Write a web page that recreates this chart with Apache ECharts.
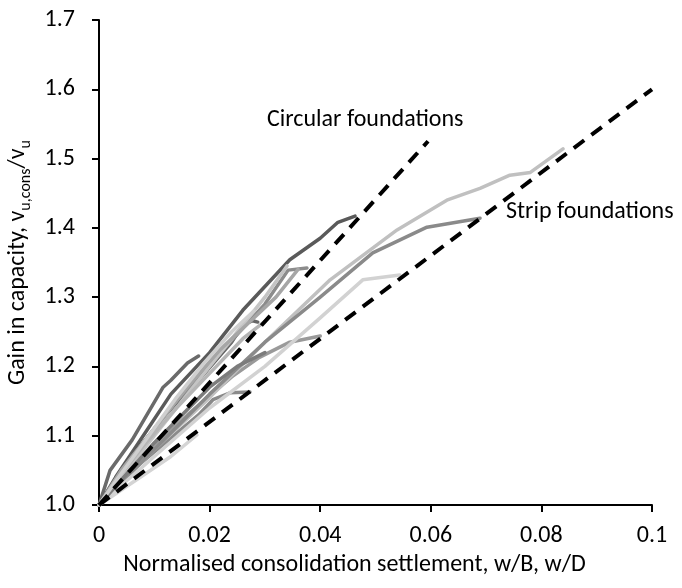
<!DOCTYPE html>
<html>
<head>
<meta charset="utf-8">
<script src="https://cdn.jsdelivr.net/npm/echarts@6/dist/echarts.min.js"></script>
<style>
html,body{margin:0;padding:0;background:#fff;}
#chart{width:682px;height:588px;}
</style>
</head>
<body>
<div id="chart"></div>
<script>
// Reference lines
const circularLine = [[0, 1.0], [0.0595, 1.525]];
const stripLine = [[0, 1.0], [0.1, 1.6]];

// Test curves (x = w/B or w/D, y = gain in capacity)
const curveA = [[0,1],[0.003,1.04],[0.008,1.1],[0.013,1.16],[0.020,1.22],[0.026,1.281],[0.0345,1.354],[0.040,1.385],[0.0432,1.408],[0.0463,1.417]];
const curveB = [[0,1],[0.002,1.05],[0.006,1.094],[0.0116,1.17],[0.013,1.18],[0.016,1.205],[0.018,1.215]];
const curveC = [[0,1],[0.005,1.06],[0.012,1.13],[0.018,1.18],[0.024,1.235],[0.026,1.26],[0.0278,1.266],[0.0287,1.264]];
const curveD = [[0,1],[0.006,1.07],[0.014,1.15],[0.022,1.22],[0.030,1.29],[0.0342,1.339],[0.0376,1.342]];
const curveE = [[0,1],[0.008,1.08],[0.016,1.16],[0.025,1.25],[0.030,1.30],[0.034,1.345]];
const curveF = [[0,1],[0.008,1.043],[0.013,1.07],[0.0177,1.101]];
const curveG = [[0,1],[0.006,1.05],[0.012,1.09],[0.018,1.13],[0.0206,1.152],[0.0237,1.162],[0.0273,1.163]];
const curveH = [[0,1],[0.008,1.07],[0.016,1.13],[0.024,1.185],[0.029,1.213],[0.0345,1.235],[0.040,1.244]];
const curveI = [[0,1],[0.010,1.08],[0.020,1.155],[0.030,1.235],[0.0418,1.325],[0.0539,1.397],[0.0629,1.44],[0.0689,1.457],[0.0743,1.476],[0.078,1.48],[0.0839,1.514]];
const curveJ = [[0,1],[0.010,1.08],[0.020,1.16],[0.030,1.235],[0.040,1.30],[0.0495,1.364],[0.0593,1.401],[0.0689,1.414]];
const curveK = [[0,1],[0.010,1.07],[0.020,1.14],[0.030,1.20],[0.040,1.27],[0.0477,1.325],[0.0544,1.332]];
const curveL = [[0,1],[0.004,1.05],[0.010,1.11],[0.016,1.17],[0.022,1.225],[0.028,1.27],[0.032,1.30],[0.036,1.34]];
const curveM = [[0,1],[0.003,1.035],[0.008,1.085],[0.014,1.14],[0.020,1.19],[0.026,1.24],[0.030,1.265]];
const curveN = [[0,1],[0.005,1.045],[0.010,1.09],[0.015,1.13],[0.020,1.17],[0.025,1.20],[0.030,1.22]];
const curveO = [[0,1],[0.004,1.045],[0.009,1.10],[0.014,1.155],[0.019,1.205],[0.024,1.25],[0.028,1.28]];

const curves = [curveA, curveB, curveC, curveD, curveE, curveF, curveG, curveH, curveI, curveJ, curveK, curveL, curveM, curveN, curveO];
const curveColors = ['#5a5a5a','#6a6a6a','#666666','#8c8c8c','#c4c4c4','#d4d4d4','#8a8a8a','#9a9a9a','#c0c0c0','#8a8a8a','#d2d2d2','#a6a6a6','#b5b5b5','#7c7c7c','#cfcfcf'];

const xTicks = [0, 0.02, 0.04, 0.06, 0.08, 0.1];
const yTicks = [1.0, 1.1, 1.2, 1.3, 1.4, 1.5, 1.6, 1.7];

const font = 'Carlito, Lato, "Open Sans", sans-serif';

const series = curves.map((d, i) => ({
  type: 'line', data: d, symbol: 'none', silent: true,
  lineStyle: { color: curveColors[i], width: 3.5, cap: 'round', join: 'round' },
  z: 2
}));
series.push({
  type: 'line', data: circularLine, symbol: 'none', silent: true,
  lineStyle: { color: '#000', width: 4, type: [13, 9] }, z: 3
});
series.push({
  type: 'line', data: stripLine, symbol: 'none', silent: true,
  lineStyle: { color: '#000', width: 4, type: [13, 9] }, z: 3
});

const chart = echarts.init(document.getElementById('chart'), null, { renderer: 'canvas' });
chart.setOption({
  animation: false,
  backgroundColor: '#fff',
  grid: { left: 99, right: 30, top: 20, bottom: 83, containLabel: false, outerBoundsMode: 'none' },
  xAxis: {
    type: 'value', min: 0, max: 0.1, interval: 0.02,
    name: 'Normalised consolidation settlement, w/B, w/D',
    nameLocation: 'middle', nameGap: 47,
    nameTextStyle: { fontFamily: font, fontSize: 24, color: '#000', padding: [0, 42, 0, 0] },
    axisLine: { lineStyle: { color: '#000', width: 2 } },
    axisTick: { show: true, length: 7, lineStyle: { color: '#000', width: 2 } },
    axisLabel: { margin: 19, fontFamily: font, fontSize: 24, color: '#000',
      formatter: v => { const t = xTicks.find(x => Math.abs(x - v) < 1e-9); return t === undefined ? '' : String(+t.toFixed(2)); } },
    splitLine: { show: false }
  },
  yAxis: {
    type: 'value', min: 1.0, max: 1.7, interval: 0.1,
    name: '{n|Gain in capacity, v}{s|u,cons}{n|/v}{s|u}',
    nameLocation: 'middle', nameGap: 56, nameRotate: 90,
    nameTextStyle: { fontFamily: font, fontSize: 24, color: '#000',
      rich: {
        n: { fontFamily: font, fontSize: 24, color: '#000', verticalAlign: 'top', lineHeight: 28 },
        s: { fontFamily: font, fontSize: 16, color: '#000', verticalAlign: 'bottom', lineHeight: 16, padding: [10, 0, 0, 0] }
      } },
    axisLine: { show: true, lineStyle: { color: '#000', width: 2 } },
    axisTick: { show: true, length: 7, lineStyle: { color: '#000', width: 2 } },
    axisLabel: { margin: 24, fontFamily: font, fontSize: 24, color: '#000',
      formatter: v => { const t = yTicks.find(y => Math.abs(y - v) < 1e-9); return t === undefined ? '' : t.toFixed(1); } },
    splitLine: { show: false }
  },
  graphic: [
    { type: 'text', left: 267, top: 108, style: { text: 'Circular foundations', font: '24px ' + font, fill: '#000' } },
    { type: 'text', left: 506, top: 200, style: { text: 'Strip foundations', font: '24px ' + font, fill: '#000' } }
  ],
  series: series
});
</script>
</body>
</html>
